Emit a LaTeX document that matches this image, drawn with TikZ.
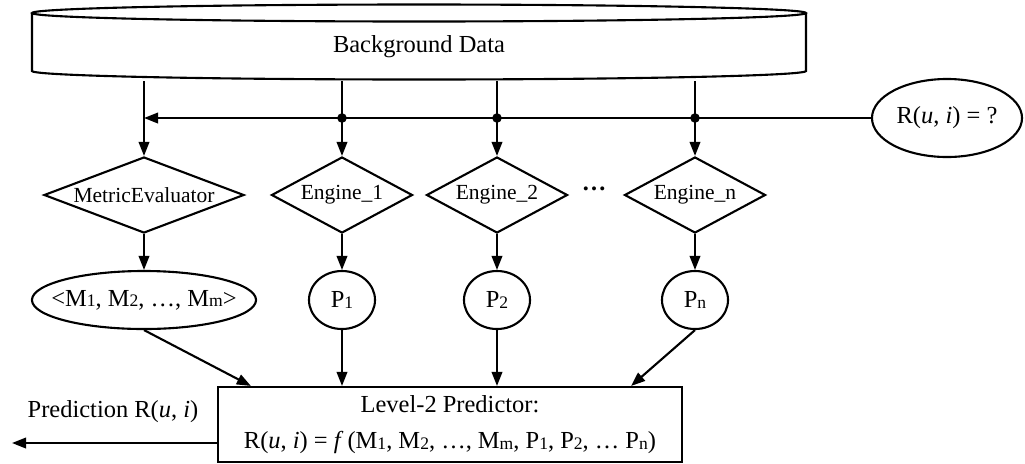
\documentclass[tikz,border=0pt]{standalone}
\usepackage{fontspec}
\setmainfont{Liberation Serif}
\usetikzlibrary{shapes.geometric,arrows.meta}
% small index digits/letters sitting on the baseline
\newcommand{\lo}[1]{\raisebox{-0.5pt}{\fontsize{12.5}{12.5}\selectfont #1}}

\begin{document}
\begin{tikzpicture}[x=0.025cm,y=-0.025cm,line width=1.5pt,
    font=\fontsize{17.4}{21}\selectfont,
    engine/.style={diamond,draw,inner sep=0pt,minimum width=3.525cm,
      minimum height=1.9cm,font=\fontsize{15.3}{18}\selectfont},
    oval/.style={ellipse,draw,inner sep=0pt,minimum width=1.65cm,minimum height=1.45cm},
    >={Triangle[length=10pt,width=7.5pt]}]
      \useasboundingbox (0,0) rectangle (1025,463);
      % the data store
      \draw (419,13) ellipse [x radius=387,y radius=8.5];
      \draw (32,13) -- (32,71) arc [start angle=180,end angle=0,x radius=387,y radius=8.5] -- (806,13);
      \draw
        (419,46.5) node[minimum width=19.35cm,minimum height=1.675cm] (data){Background Data}
        (947,118) node[oval,minimum width=3.75cm,minimum height=1.95cm] (q){\makebox[0pt]{R(\textit{u}, \textit{i}) = ?}}
        (144,195) node[engine,minimum width=5cm] (me){\makebox[0pt]{MetricEvaluator}}
        (342,195) node[engine] (e1){\makebox[0pt]{Engine\_1}}
        (497,195) node[engine] (e2){\makebox[0pt]{Engine\_2}}
        (594,189) node (dots){\textbf{…}}
        (695,195) node[engine] (en){\makebox[0pt]{Engine\_n}}
        (144,300) node[oval,minimum width=5.6cm] (ms){\makebox[0pt]{<M\lo{1}, M\lo{2}, …, M\lo{m}>}}
        (342,300) node[oval] (p1){\makebox[0pt]{P\lo{1}}}
        (497,300) node[oval] (p2){\makebox[0pt]{P\lo{2}}}
        (695,300) node[oval] (pn){\makebox[0pt]{P\lo{n}}}
        (450,424.5) node[draw,minimum width=11.6cm,minimum height=1.875cm,align=center,
          font=\fontsize{17.4}{25.5}\selectfont] (pred){Level-2 Predictor:\\
          R(\textit{u}, \textit{i}) = \textit{f}\,(M\lo{1}, M\lo{2}, …, M\lo{m}, P\lo{1}, P\lo{2}, … P\lo{n})}
        (113,412) node (out label){Prediction R(\textit{u}, \textit{i})};
      \coordinate (out) at (12,443);
      \begin{scope}[->]
        \draw (data.south -| me.north) to (me.north);
        \draw (data.south -| e1.north) to (e1.north);
        \draw (data.south -| e2.north) to (e2.north);
        \draw (data.south -| en.north) to (en.north);
        \draw (q.west) to (q.west -| me.north);
        \draw (me.south) to (ms.north);
        \draw (e1.south) to (p1.north);
        \draw (e2.south) to (p2.north);
        \draw (en.south) to (pn.north);
        \draw (ms.south) to ([xshift=0.85cm]pred.north west);
        \draw (p1.south) to (p1.south |- pred.north);
        \draw (p2.south) to (p2.south |- pred.north);
        \draw (pn.south) to ([xshift=-1.3cm]pred.north east);
        \draw (out -| pred.west) to (out);
      \end{scope}
      \fill (q.west -| e1.north) circle (3.4pt);
      \fill (q.west -| e2.north) circle (3.4pt);
      \fill (q.west -| en.north) circle (3.4pt);
    \end{tikzpicture}
\end{document}
